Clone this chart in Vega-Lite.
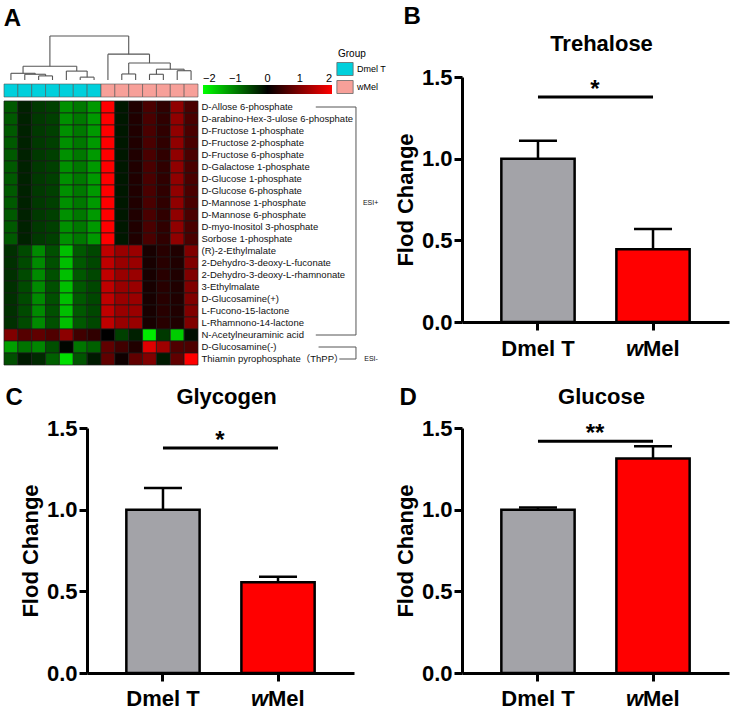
{
"$schema":"https://vega.github.io/schema/vega-lite/v6.json",
"padding":{"left":3,"top":5,"right":2,"bottom":2},
"config":{"view":{"stroke":null},"font":"Liberation Sans","axis":{"labelFont":"Liberation Sans","titleFont":"Liberation Sans"},"legend":{"labelFont":"Liberation Sans","titleFont":"Liberation Sans"},"title":{"font":"Liberation Sans"}},
"datasets":{
"rows":[{"r":1,"name":"D-Allose 6-phosphate"},{"r":2,"name":"D-arabino-Hex-3-ulose 6-phosphate"},{"r":3,"name":"D-Fructose 1-phosphate"},{"r":4,"name":"D-Fructose 2-phosphate"},{"r":5,"name":"D-Fructose 6-phosphate"},{"r":6,"name":"D-Galactose 1-phosphate"},{"r":7,"name":"D-Glucose 1-phosphate"},{"r":8,"name":"D-Glucose 6-phosphate"},{"r":9,"name":"D-Mannose 1-phosphate"},{"r":10,"name":"D-Mannose 6-phosphate"},{"r":11,"name":"D-myo-Inositol 3-phosphate"},{"r":12,"name":"Sorbose 1-phosphate"},{"r":13,"name":"(R)-2-Ethylmalate"},{"r":14,"name":"2-Dehydro-3-deoxy-L-fuconate"},{"r":15,"name":"2-Dehydro-3-deoxy-L-rhamnonate"},{"r":16,"name":"3-Ethylmalate"},{"r":17,"name":"D-Glucosamine(+)"},{"r":18,"name":"L-Fucono-15-lactone"},{"r":19,"name":"L-Rhamnono-14-lactone"},{"r":20,"name":"N-Acetylneuraminic acid"},{"r":21,"name":"D-Glucosamine(-)"},{"r":22,"name":"Thiamin pyrophosphate（ThPP）"}],
"cells":[
{"r":1,"c":1,"v":-0.7},{"r":1,"c":2,"v":-0.27},{"r":1,"c":3,"v":-0.45},{"r":1,"c":4,"v":-0.5},{"r":1,"c":5,"v":-1.13},{"r":1,"c":6,"v":-0.94},{"r":1,"c":7,"v":-1.2},{"r":1,"c":8,"v":2},{"r":1,"c":9,"v":-0.19},{"r":1,"c":10,"v":0.25},{"r":1,"c":11,"v":0.58},{"r":1,"c":12,"v":0.38},{"r":1,"c":13,"v":1.13},{"r":1,"c":14,"v":0.58},
{"r":2,"c":1,"v":-0.7},{"r":2,"c":2,"v":-0.27},{"r":2,"c":3,"v":-0.45},{"r":2,"c":4,"v":-0.5},{"r":2,"c":5,"v":-1.13},{"r":2,"c":6,"v":-0.94},{"r":2,"c":7,"v":-1.2},{"r":2,"c":8,"v":2},{"r":2,"c":9,"v":-0.19},{"r":2,"c":10,"v":0.25},{"r":2,"c":11,"v":0.58},{"r":2,"c":12,"v":0.38},{"r":2,"c":13,"v":1.13},{"r":2,"c":14,"v":0.58},
{"r":3,"c":1,"v":-0.7},{"r":3,"c":2,"v":-0.27},{"r":3,"c":3,"v":-0.45},{"r":3,"c":4,"v":-0.5},{"r":3,"c":5,"v":-1.13},{"r":3,"c":6,"v":-0.94},{"r":3,"c":7,"v":-1.2},{"r":3,"c":8,"v":2},{"r":3,"c":9,"v":-0.19},{"r":3,"c":10,"v":0.25},{"r":3,"c":11,"v":0.58},{"r":3,"c":12,"v":0.38},{"r":3,"c":13,"v":1.13},{"r":3,"c":14,"v":0.58},
{"r":4,"c":1,"v":-0.7},{"r":4,"c":2,"v":-0.27},{"r":4,"c":3,"v":-0.45},{"r":4,"c":4,"v":-0.5},{"r":4,"c":5,"v":-1.13},{"r":4,"c":6,"v":-0.94},{"r":4,"c":7,"v":-1.2},{"r":4,"c":8,"v":2},{"r":4,"c":9,"v":-0.19},{"r":4,"c":10,"v":0.25},{"r":4,"c":11,"v":0.58},{"r":4,"c":12,"v":0.38},{"r":4,"c":13,"v":1.13},{"r":4,"c":14,"v":0.58},
{"r":5,"c":1,"v":-0.7},{"r":5,"c":2,"v":-0.27},{"r":5,"c":3,"v":-0.45},{"r":5,"c":4,"v":-0.5},{"r":5,"c":5,"v":-1.13},{"r":5,"c":6,"v":-0.94},{"r":5,"c":7,"v":-1.2},{"r":5,"c":8,"v":2},{"r":5,"c":9,"v":-0.19},{"r":5,"c":10,"v":0.25},{"r":5,"c":11,"v":0.58},{"r":5,"c":12,"v":0.38},{"r":5,"c":13,"v":1.13},{"r":5,"c":14,"v":0.58},
{"r":6,"c":1,"v":-0.7},{"r":6,"c":2,"v":-0.27},{"r":6,"c":3,"v":-0.45},{"r":6,"c":4,"v":-0.5},{"r":6,"c":5,"v":-1.13},{"r":6,"c":6,"v":-0.94},{"r":6,"c":7,"v":-1.2},{"r":6,"c":8,"v":2},{"r":6,"c":9,"v":-0.19},{"r":6,"c":10,"v":0.25},{"r":6,"c":11,"v":0.58},{"r":6,"c":12,"v":0.38},{"r":6,"c":13,"v":1.13},{"r":6,"c":14,"v":0.58},
{"r":7,"c":1,"v":-0.7},{"r":7,"c":2,"v":-0.27},{"r":7,"c":3,"v":-0.45},{"r":7,"c":4,"v":-0.5},{"r":7,"c":5,"v":-1.13},{"r":7,"c":6,"v":-0.94},{"r":7,"c":7,"v":-1.2},{"r":7,"c":8,"v":2},{"r":7,"c":9,"v":-0.19},{"r":7,"c":10,"v":0.25},{"r":7,"c":11,"v":0.58},{"r":7,"c":12,"v":0.38},{"r":7,"c":13,"v":1.13},{"r":7,"c":14,"v":0.58},
{"r":8,"c":1,"v":-0.7},{"r":8,"c":2,"v":-0.27},{"r":8,"c":3,"v":-0.45},{"r":8,"c":4,"v":-0.5},{"r":8,"c":5,"v":-1.13},{"r":8,"c":6,"v":-0.94},{"r":8,"c":7,"v":-1.2},{"r":8,"c":8,"v":2},{"r":8,"c":9,"v":-0.19},{"r":8,"c":10,"v":0.25},{"r":8,"c":11,"v":0.58},{"r":8,"c":12,"v":0.38},{"r":8,"c":13,"v":1.13},{"r":8,"c":14,"v":0.58},
{"r":9,"c":1,"v":-0.7},{"r":9,"c":2,"v":-0.27},{"r":9,"c":3,"v":-0.45},{"r":9,"c":4,"v":-0.5},{"r":9,"c":5,"v":-1.13},{"r":9,"c":6,"v":-0.94},{"r":9,"c":7,"v":-1.2},{"r":9,"c":8,"v":2},{"r":9,"c":9,"v":-0.19},{"r":9,"c":10,"v":0.25},{"r":9,"c":11,"v":0.58},{"r":9,"c":12,"v":0.38},{"r":9,"c":13,"v":1.13},{"r":9,"c":14,"v":0.58},
{"r":10,"c":1,"v":-0.7},{"r":10,"c":2,"v":-0.27},{"r":10,"c":3,"v":-0.45},{"r":10,"c":4,"v":-0.5},{"r":10,"c":5,"v":-1.13},{"r":10,"c":6,"v":-0.94},{"r":10,"c":7,"v":-1.2},{"r":10,"c":8,"v":2},{"r":10,"c":9,"v":-0.19},{"r":10,"c":10,"v":0.25},{"r":10,"c":11,"v":0.58},{"r":10,"c":12,"v":0.38},{"r":10,"c":13,"v":1.13},{"r":10,"c":14,"v":0.58},
{"r":11,"c":1,"v":-0.7},{"r":11,"c":2,"v":-0.27},{"r":11,"c":3,"v":-0.45},{"r":11,"c":4,"v":-0.5},{"r":11,"c":5,"v":-1.13},{"r":11,"c":6,"v":-0.94},{"r":11,"c":7,"v":-1.2},{"r":11,"c":8,"v":2},{"r":11,"c":9,"v":-0.19},{"r":11,"c":10,"v":0.25},{"r":11,"c":11,"v":0.58},{"r":11,"c":12,"v":0.38},{"r":11,"c":13,"v":1.13},{"r":11,"c":14,"v":0.58},
{"r":12,"c":1,"v":-0.7},{"r":12,"c":2,"v":-0.27},{"r":12,"c":3,"v":-0.45},{"r":12,"c":4,"v":-0.5},{"r":12,"c":5,"v":-1.13},{"r":12,"c":6,"v":-0.94},{"r":12,"c":7,"v":-1.2},{"r":12,"c":8,"v":2},{"r":12,"c":9,"v":-0.19},{"r":12,"c":10,"v":0.25},{"r":12,"c":11,"v":0.58},{"r":12,"c":12,"v":0.38},{"r":12,"c":13,"v":1.13},{"r":12,"c":14,"v":0.58},
{"r":13,"c":1,"v":-0.38},{"r":13,"c":2,"v":-0.58},{"r":13,"c":3,"v":-1.08},{"r":13,"c":4,"v":-0.63},{"r":13,"c":5,"v":-1.5},{"r":13,"c":6,"v":-0.69},{"r":13,"c":7,"v":-0.56},{"r":13,"c":8,"v":1.5},{"r":13,"c":9,"v":1.19},{"r":13,"c":10,"v":1.2},{"r":13,"c":11,"v":0.19},{"r":13,"c":12,"v":0.31},{"r":13,"c":13,"v":0.25},{"r":13,"c":14,"v":1.0},
{"r":14,"c":1,"v":-0.38},{"r":14,"c":2,"v":-0.58},{"r":14,"c":3,"v":-1.08},{"r":14,"c":4,"v":-0.63},{"r":14,"c":5,"v":-1.5},{"r":14,"c":6,"v":-0.69},{"r":14,"c":7,"v":-0.56},{"r":14,"c":8,"v":1.5},{"r":14,"c":9,"v":1.19},{"r":14,"c":10,"v":1.2},{"r":14,"c":11,"v":0.19},{"r":14,"c":12,"v":0.31},{"r":14,"c":13,"v":0.25},{"r":14,"c":14,"v":1.0},
{"r":15,"c":1,"v":-0.38},{"r":15,"c":2,"v":-0.58},{"r":15,"c":3,"v":-1.08},{"r":15,"c":4,"v":-0.63},{"r":15,"c":5,"v":-1.5},{"r":15,"c":6,"v":-0.69},{"r":15,"c":7,"v":-0.56},{"r":15,"c":8,"v":1.5},{"r":15,"c":9,"v":1.19},{"r":15,"c":10,"v":1.2},{"r":15,"c":11,"v":0.19},{"r":15,"c":12,"v":0.31},{"r":15,"c":13,"v":0.25},{"r":15,"c":14,"v":1.0},
{"r":16,"c":1,"v":-0.38},{"r":16,"c":2,"v":-0.58},{"r":16,"c":3,"v":-1.08},{"r":16,"c":4,"v":-0.63},{"r":16,"c":5,"v":-1.5},{"r":16,"c":6,"v":-0.69},{"r":16,"c":7,"v":-0.56},{"r":16,"c":8,"v":1.5},{"r":16,"c":9,"v":1.19},{"r":16,"c":10,"v":1.2},{"r":16,"c":11,"v":0.19},{"r":16,"c":12,"v":0.31},{"r":16,"c":13,"v":0.25},{"r":16,"c":14,"v":1.0},
{"r":17,"c":1,"v":-0.38},{"r":17,"c":2,"v":-0.58},{"r":17,"c":3,"v":-1.08},{"r":17,"c":4,"v":-0.63},{"r":17,"c":5,"v":-1.5},{"r":17,"c":6,"v":-0.69},{"r":17,"c":7,"v":-0.56},{"r":17,"c":8,"v":1.5},{"r":17,"c":9,"v":1.19},{"r":17,"c":10,"v":1.2},{"r":17,"c":11,"v":0.19},{"r":17,"c":12,"v":0.31},{"r":17,"c":13,"v":0.25},{"r":17,"c":14,"v":1.0},
{"r":18,"c":1,"v":-0.38},{"r":18,"c":2,"v":-0.58},{"r":18,"c":3,"v":-1.08},{"r":18,"c":4,"v":-0.63},{"r":18,"c":5,"v":-1.5},{"r":18,"c":6,"v":-0.69},{"r":18,"c":7,"v":-0.56},{"r":18,"c":8,"v":1.5},{"r":18,"c":9,"v":1.19},{"r":18,"c":10,"v":1.2},{"r":18,"c":11,"v":0.19},{"r":18,"c":12,"v":0.31},{"r":18,"c":13,"v":0.25},{"r":18,"c":14,"v":1.0},
{"r":19,"c":1,"v":-0.38},{"r":19,"c":2,"v":-0.58},{"r":19,"c":3,"v":-1.08},{"r":19,"c":4,"v":-0.63},{"r":19,"c":5,"v":-1.5},{"r":19,"c":6,"v":-0.69},{"r":19,"c":7,"v":-0.56},{"r":19,"c":8,"v":1.5},{"r":19,"c":9,"v":1.19},{"r":19,"c":10,"v":1.2},{"r":19,"c":11,"v":0.19},{"r":19,"c":12,"v":0.31},{"r":19,"c":13,"v":0.25},{"r":19,"c":14,"v":1.0},
{"r":20,"c":1,"v":1.0},{"r":20,"c":2,"v":0.67},{"r":20,"c":3,"v":0.75},{"r":20,"c":4,"v":0.63},{"r":20,"c":5,"v":1.1},{"r":20,"c":6,"v":0.5},{"r":20,"c":7,"v":0.38},{"r":20,"c":8,"v":0},{"r":20,"c":9,"v":-0.5},{"r":20,"c":10,"v":-0.25},{"r":20,"c":11,"v":-1.85},{"r":20,"c":12,"v":-0.45},{"r":20,"c":13,"v":-1.6},{"r":20,"c":14,"v":-0.12},
{"r":21,"c":1,"v":-1.25},{"r":21,"c":2,"v":-0.9},{"r":21,"c":3,"v":-1.05},{"r":21,"c":4,"v":-0.62},{"r":21,"c":5,"v":-0.05},{"r":21,"c":6,"v":-0.92},{"r":21,"c":7,"v":-0.75},{"r":21,"c":8,"v":0.75},{"r":21,"c":9,"v":0.5},{"r":21,"c":10,"v":0.25},{"r":21,"c":11,"v":1.75},{"r":21,"c":12,"v":1.25},{"r":21,"c":13,"v":0.62},{"r":21,"c":14,"v":0.6},
{"r":22,"c":1,"v":-0.62},{"r":22,"c":2,"v":-0.2},{"r":22,"c":3,"v":-0.33},{"r":22,"c":4,"v":-0.75},{"r":22,"c":5,"v":-1.75},{"r":22,"c":6,"v":-0.67},{"r":22,"c":7,"v":-0.2},{"r":22,"c":8,"v":0.75},{"r":22,"c":9,"v":0.12},{"r":22,"c":10,"v":0.75},{"r":22,"c":11,"v":1.0},{"r":22,"c":12,"v":-0.2},{"r":22,"c":13,"v":0.75},{"r":22,"c":14,"v":2.0}
],
"groups":[{"c":1,"group":"Dmel T"},{"c":2,"group":"Dmel T"},{"c":3,"group":"Dmel T"},{"c":4,"group":"Dmel T"},{"c":5,"group":"Dmel T"},{"c":6,"group":"Dmel T"},{"c":7,"group":"Dmel T"},{"c":8,"group":"wMel"},{"c":9,"group":"wMel"},{"c":10,"group":"wMel"},{"c":11,"group":"wMel"},{"c":12,"group":"wMel"},{"c":13,"group":"wMel"},{"c":14,"group":"wMel"}],
"dendro":[
{"x":2.5,"x2":2.5,"y":0,"y2":4.3},{"x":3.5,"x2":3.5,"y":0,"y2":4.3},{"x":2.5,"x2":3.5,"y":4.3,"y2":4.3},
{"x":1.5,"x2":1.5,"y":0,"y2":6},{"x":3,"x2":3,"y":4.3,"y2":6},{"x":1.5,"x2":3,"y":6,"y2":6},
{"x":0.5,"x2":0.5,"y":0,"y2":7},{"x":2.25,"x2":2.25,"y":6,"y2":7},{"x":0.5,"x2":2.25,"y":7,"y2":7},
{"x":5.5,"x2":5.5,"y":0,"y2":3},{"x":6.5,"x2":6.5,"y":0,"y2":3},{"x":5.5,"x2":6.5,"y":3,"y2":3},
{"x":4.5,"x2":4.5,"y":0,"y2":9.3},{"x":6,"x2":6,"y":3,"y2":9.3},{"x":4.5,"x2":6,"y":9.3,"y2":9.3},
{"x":1.375,"x2":1.375,"y":7,"y2":14.3},{"x":5.25,"x2":5.25,"y":9.3,"y2":14.3},{"x":1.375,"x2":5.25,"y":14.3,"y2":14.3},
{"x":8.5,"x2":8.5,"y":0,"y2":6.3},{"x":9.5,"x2":9.5,"y":0,"y2":6.3},{"x":8.5,"x2":9.5,"y":6.3,"y2":6.3},
{"x":10.5,"x2":10.5,"y":0,"y2":6},{"x":11.5,"x2":11.5,"y":0,"y2":6},{"x":10.5,"x2":11.5,"y":6,"y2":6},
{"x":12.5,"x2":12.5,"y":0,"y2":9.7},{"x":13.5,"x2":13.5,"y":0,"y2":9.7},{"x":12.5,"x2":13.5,"y":9.7,"y2":9.7},
{"x":11,"x2":11,"y":6,"y2":11.3},{"x":13,"x2":13,"y":9.7,"y2":11.3},{"x":11,"x2":13,"y":11.3,"y2":11.3},
{"x":9,"x2":9,"y":6.3,"y2":17.7},{"x":12,"x2":12,"y":11.3,"y2":17.7},{"x":9,"x2":12,"y":17.7,"y2":17.7},
{"x":7.5,"x2":7.5,"y":0,"y2":27},{"x":10.5,"x2":10.5,"y":17.7,"y2":27},{"x":7.5,"x2":10.5,"y":27,"y2":27},
{"x":3.3125,"x2":3.3125,"y":14.3,"y2":46},{"x":9,"x2":9,"y":27,"y2":46},{"x":3.3125,"x2":9,"y":46,"y2":46}
],
"brackets":[
{"x":22.5,"x2":25.4,"ya":"D-Allose 6-phosphate","yb":"D-Allose 6-phosphate"},
{"x":25.4,"x2":25.4,"ya":"D-Allose 6-phosphate","yb":"N-Acetylneuraminic acid"},
{"x":22.5,"x2":25.4,"ya":"N-Acetylneuraminic acid","yb":"N-Acetylneuraminic acid"},
{"x":22.7,"x2":25.4,"ya":"D-Glucosamine(-)","yb":"D-Glucosamine(-)"},
{"x":25.4,"x2":25.4,"ya":"D-Glucosamine(-)","yb":"Thiamin pyrophosphate（ThPP）"},
{"x":24.2,"x2":25.4,"ya":"Thiamin pyrophosphate（ThPP）","yb":"Thiamin pyrophosphate（ThPP）"}
],
"esi":[{"x":25.9,"ya":"D-Mannose 1-phosphate","t":"ESI+"},{"x":26.0,"ya":"Thiamin pyrophosphate（ThPP）","t":"ESI-"}],
"bars":[
{"metabolite":"Trehalose","group":"Dmel T","mean":1.0,"upper":1.11},
{"metabolite":"Trehalose","group":"wMel","mean":0.445,"upper":0.57},
{"metabolite":"Glycogen","group":"Dmel T","mean":1.0,"upper":1.133},
{"metabolite":"Glycogen","group":"wMel","mean":0.555,"upper":0.59},
{"metabolite":"Glucose","group":"Dmel T","mean":1.0,"upper":1.013},
{"metabolite":"Glucose","group":"wMel","mean":1.313,"upper":1.388}
],
"sig":[
{"metabolite":"Trehalose","y":1.377,"label":"*"},
{"metabolite":"Glycogen","y":1.378,"label":"*"},
{"metabolite":"Glucose","y":1.419,"label":"**"}
]
},
"spacing":20,
"vconcat":[
{"spacing":15,"hconcat":[
 {"title":{"text":"A","anchor":"start","frame":"bounds","fontSize":24,"fontWeight":"bold","color":"black","offset":4},
  "spacing":2,
  "vconcat":[
   {"width":194,"height":44,"data":{"name":"dendro"},
    "mark":{"type":"rule","color":"#555555","strokeWidth":1.1},
    "encoding":{
     "x":{"field":"x","type":"quantitative","scale":{"domain":[0,14],"nice":false,"zero":false},"axis":null},
     "x2":{"field":"x2"},
     "y":{"field":"y","type":"quantitative","scale":{"domain":[0,46],"nice":false},"axis":null},
     "y2":{"field":"y2"}}},
   {"width":194,"height":13,"data":{"name":"groups"},
    "mark":{"type":"rect","stroke":"#555555","strokeWidth":0.6},
    "encoding":{
     "x":{"field":"c","type":"ordinal","axis":null},
     "fill":{"field":"group","type":"nominal","scale":{"domain":["Dmel T","wMel"],"range":["#00d0dc","#f7a099"]},
      "legend":{"orient":"none","legendX":334,"legendY":13,"title":"Group","titleFontSize":10,"titleFontWeight":"normal","titleColor":"black","titlePadding":3,"labelFontSize":9,"labelColor":"black","symbolType":"M-1.25,-1H1.25V1H-1.25Z","symbolSize":169,"symbolStrokeColor":"#666666","symbolStrokeWidth":0.8,"symbolOpacity":1,"rowPadding":0,"padding":0,"labelOffset":5}}}},
   {"width":194,"height":264,
    "resolve":{"scale":{"x":"independent"},"axis":{"x":"independent"}},
    "layer":[
     {"data":{"name":"cells"},
      "transform":[{"lookup":"r","from":{"data":{"name":"rows"},"key":"r","fields":["name"]}}],
      "mark":{"type":"rect","stroke":"#1a1a1a","strokeWidth":0.7},
      "encoding":{
       "x":{"field":"c","type":"ordinal","axis":null},
       "y":{"field":"name","type":"nominal","scale":{"domain":["D-Allose 6-phosphate","D-arabino-Hex-3-ulose 6-phosphate","D-Fructose 1-phosphate","D-Fructose 2-phosphate","D-Fructose 6-phosphate","D-Galactose 1-phosphate","D-Glucose 1-phosphate","D-Glucose 6-phosphate","D-Mannose 1-phosphate","D-Mannose 6-phosphate","D-myo-Inositol 3-phosphate","Sorbose 1-phosphate","(R)-2-Ethylmalate","2-Dehydro-3-deoxy-L-fuconate","2-Dehydro-3-deoxy-L-rhamnonate","3-Ethylmalate","D-Glucosamine(+)","L-Fucono-15-lactone","L-Rhamnono-14-lactone","N-Acetylneuraminic acid","D-Glucosamine(-)","Thiamin pyrophosphate（ThPP）"]},
        "axis":{"orient":"right","title":null,"ticks":false,"domain":false,"labelPadding":3,"labelFontSize":9.5,"labelColor":"#111111","labelLimit":300,"labelFont":"Liberation Sans, Noto Sans CJK SC, sans-serif"}},
       "color":{"field":"v","type":"quantitative","scale":{"domain":[-2,0,2],"range":["#00ff00","#000000","#ff0000"],"interpolate":"rgb","clamp":true},
        "legend":{"orient":"none","legendX":199,"legendY":49,"direction":"horizontal","gradientLength":129,"gradientThickness":9,"title":null,"values":[-2,-1,0,1,2],"format":"d","labelOffset":-21,"labelFontSize":11,"labelColor":"black","padding":0,"gradientStrokeWidth":0}}}},
     {"data":{"name":"brackets"},
      "mark":{"type":"rule","color":"#555555","strokeWidth":1},
      "encoding":{
       "x":{"field":"x","type":"quantitative","scale":{"domain":[0,14],"nice":false,"zero":false},"axis":null},
       "x2":{"field":"x2"},
       "y":{"field":"ya","type":"nominal"},
       "y2":{"field":"yb"}}},
     {"data":{"name":"esi"},
      "mark":{"type":"text","fontSize":7,"align":"left","baseline":"middle","color":"#111111"},
      "encoding":{
       "x":{"field":"x","type":"quantitative","scale":{"domain":[0,14],"nice":false,"zero":false},"axis":null},
       "y":{"field":"ya","type":"nominal"},
       "text":{"field":"t"}}}
    ]}
  ]},
 {"title":{"text":"B","anchor":"start","frame":"bounds","fontSize":24,"fontWeight":"bold","color":"black","offset":4,"dx":9},
  "spacing":-4,
  "vconcat":[
   {"width":1,"height":1,"data":{"values":[]},"mark":"point","encoding":{}},
   {"width":267,"height":245,
    "title":{"text":"Trehalose","fontSize":22,"fontWeight":"bold","color":"black","offset":10,"dx":6},
    "data":{"name":"bars"},
    "transform":[{"filter":"datum.metabolite === 'Trehalose'"}],
    "layer":[
     {"mark":{"type":"rule","strokeWidth":2.5,"color":"black"},
      "encoding":{"x":{"field":"group","type":"nominal","scale":{"domain":["Dmel T","wMel"],"paddingInner":0.363,"paddingOuter":0.342}},"y":{"field":"mean","type":"quantitative","scale":{"domain":[0,1.5],"nice":false}},"y2":{"field":"upper"}}},
     {"mark":{"type":"tick","orient":"horizontal","size":38,"thickness":2.5,"color":"black","opacity":1},
      "encoding":{"x":{"field":"group","type":"nominal"},"y":{"field":"upper","type":"quantitative"}}},
     {"mark":{"type":"bar","stroke":"black","strokeWidth":2.5},
      "encoding":{
       "x":{"field":"group","type":"nominal","axis":{"title":null,"labels":false,"tickSize":8,"tickWidth":3,"tickColor":"black","domainWidth":3,"domainColor":"black"}},
       "y":{"field":"mean","type":"quantitative","axis":{"title":"Flod Change","titleFontSize":22,"titleFontWeight":"bold","titleColor":"black","titlePadding":4,"values":[0,0.5,1,1.5],"format":".1f","labelFontSize":22,"labelFontWeight":"bold","labelColor":"black","labelPadding":2,"tickSize":8,"tickWidth":3,"tickColor":"black","domainWidth":3,"domainColor":"black","grid":false}},
       "fill":{"condition":{"test":"datum.group === 'wMel'","value":"#ff0000"},"value":"#a3a3a8"}}},
     {"transform":[{"filter":"datum.group === 'Dmel T'"}],
      "mark":{"type":"text","fontSize":22,"fontWeight":"bold","baseline":"middle","align":"center","dy":27,"color":"black"},
      "encoding":{"x":{"field":"group","type":"nominal"},"y":{"datum":0,"type":"quantitative"},"text":{"field":"group"}}},
     {"transform":[{"filter":"datum.group === 'wMel'"}],
      "mark":{"type":"text","fontSize":22,"fontWeight":"bold","fontStyle":"italic","baseline":"middle","align":"right","dx":-10,"dy":27,"color":"black"},
      "encoding":{"x":{"field":"group","type":"nominal"},"y":{"datum":0,"type":"quantitative"},"text":{"value":"w"}}},
     {"transform":[{"filter":"datum.group === 'wMel'"}],
      "mark":{"type":"text","fontSize":22,"fontWeight":"bold","baseline":"middle","align":"left","dx":-10,"dy":27,"color":"black"},
      "encoding":{"x":{"field":"group","type":"nominal"},"y":{"datum":0,"type":"quantitative"},"text":{"value":"Mel"}}},
     {"data":{"name":"sig"},"transform":[{"filter":"datum.metabolite === 'Trehalose'"}],
      "mark":{"type":"rule","strokeWidth":3,"color":"black"},
      "encoding":{"x":{"datum":"Dmel T","type":"nominal"},"x2":{"datum":"wMel"},"y":{"field":"y","type":"quantitative"}}},
     {"data":{"name":"sig"},"transform":[{"filter":"datum.metabolite === 'Trehalose'"}],
      "mark":{"type":"text","dx":57,"fontSize":24,"fontWeight":"bold","baseline":"alphabetic","align":"center","color":"black"},
      "encoding":{"x":{"datum":"Dmel T","type":"nominal"},"y":{"field":"y","type":"quantitative"},"text":{"field":"label"}}}
    ]}
  ]}
]},
{"spacing":0,"hconcat":[
 {"width":1,"height":1,"data":{"values":[]},"mark":"point","encoding":{}},
 {"spacing":40,"hconcat":[
 {"title":{"text":"C","anchor":"start","frame":"bounds","fontSize":24,"fontWeight":"bold","color":"black","offset":0,"dy":24,"dx":-14},
  "vconcat":[
   {"width":267,"height":245,
    "title":{"text":"Glycogen","fontSize":22,"fontWeight":"bold","color":"black","offset":8,"dx":6},
    "data":{"name":"bars"},
    "transform":[{"filter":"datum.metabolite === 'Glycogen'"}],
    "layer":[
     {"mark":{"type":"rule","strokeWidth":2.5,"color":"black"},
      "encoding":{"x":{"field":"group","type":"nominal","scale":{"domain":["Dmel T","wMel"],"paddingInner":0.363,"paddingOuter":0.342}},"y":{"field":"mean","type":"quantitative","scale":{"domain":[0,1.5],"nice":false}},"y2":{"field":"upper"}}},
     {"mark":{"type":"tick","orient":"horizontal","size":38,"thickness":2.5,"color":"black","opacity":1},
      "encoding":{"x":{"field":"group","type":"nominal"},"y":{"field":"upper","type":"quantitative"}}},
     {"mark":{"type":"bar","stroke":"black","strokeWidth":2.5},
      "encoding":{
       "x":{"field":"group","type":"nominal","axis":{"title":null,"labels":false,"tickSize":8,"tickWidth":3,"tickColor":"black","domainWidth":3,"domainColor":"black"}},
       "y":{"field":"mean","type":"quantitative","axis":{"title":"Flod Change","titleFontSize":22,"titleFontWeight":"bold","titleColor":"black","titlePadding":4,"values":[0,0.5,1,1.5],"format":".1f","labelFontSize":22,"labelFontWeight":"bold","labelColor":"black","labelPadding":2,"tickSize":8,"tickWidth":3,"tickColor":"black","domainWidth":3,"domainColor":"black","grid":false}},
       "fill":{"condition":{"test":"datum.group === 'wMel'","value":"#ff0000"},"value":"#a3a3a8"}}},
     {"transform":[{"filter":"datum.group === 'Dmel T'"}],
      "mark":{"type":"text","fontSize":22,"fontWeight":"bold","baseline":"middle","align":"center","dy":26,"color":"black"},
      "encoding":{"x":{"field":"group","type":"nominal"},"y":{"datum":0,"type":"quantitative"},"text":{"field":"group"}}},
     {"transform":[{"filter":"datum.group === 'wMel'"}],
      "mark":{"type":"text","fontSize":22,"fontWeight":"bold","fontStyle":"italic","baseline":"middle","align":"right","dx":-10,"dy":26,"color":"black"},
      "encoding":{"x":{"field":"group","type":"nominal"},"y":{"datum":0,"type":"quantitative"},"text":{"value":"w"}}},
     {"transform":[{"filter":"datum.group === 'wMel'"}],
      "mark":{"type":"text","fontSize":22,"fontWeight":"bold","baseline":"middle","align":"left","dx":-10,"dy":26,"color":"black"},
      "encoding":{"x":{"field":"group","type":"nominal"},"y":{"datum":0,"type":"quantitative"},"text":{"value":"Mel"}}},
     {"data":{"name":"sig"},"transform":[{"filter":"datum.metabolite === 'Glycogen'"}],
      "mark":{"type":"rule","strokeWidth":3,"color":"black"},
      "encoding":{"x":{"datum":"Dmel T","type":"nominal"},"x2":{"datum":"wMel"},"y":{"field":"y","type":"quantitative"}}},
     {"data":{"name":"sig"},"transform":[{"filter":"datum.metabolite === 'Glycogen'"}],
      "mark":{"type":"text","dx":57,"fontSize":24,"fontWeight":"bold","baseline":"alphabetic","align":"center","color":"black"},
      "encoding":{"x":{"datum":"Dmel T","type":"nominal"},"y":{"field":"y","type":"quantitative"},"text":{"field":"label"}}}
    ]}
  ]},
 {"title":{"text":"D","anchor":"start","frame":"bounds","fontSize":24,"fontWeight":"bold","color":"black","offset":0,"dy":24,"dx":5},
  "vconcat":[
   {"width":267,"height":245,
    "title":{"text":"Glucose","fontSize":22,"fontWeight":"bold","color":"black","offset":8,"dx":6},
    "data":{"name":"bars"},
    "transform":[{"filter":"datum.metabolite === 'Glucose'"}],
    "layer":[
     {"mark":{"type":"rule","strokeWidth":2.5,"color":"black"},
      "encoding":{"x":{"field":"group","type":"nominal","scale":{"domain":["Dmel T","wMel"],"paddingInner":0.363,"paddingOuter":0.342}},"y":{"field":"mean","type":"quantitative","scale":{"domain":[0,1.5],"nice":false}},"y2":{"field":"upper"}}},
     {"mark":{"type":"tick","orient":"horizontal","size":38,"thickness":2.5,"color":"black","opacity":1},
      "encoding":{"x":{"field":"group","type":"nominal"},"y":{"field":"upper","type":"quantitative"}}},
     {"mark":{"type":"bar","stroke":"black","strokeWidth":2.5},
      "encoding":{
       "x":{"field":"group","type":"nominal","axis":{"title":null,"labels":false,"tickSize":8,"tickWidth":3,"tickColor":"black","domainWidth":3,"domainColor":"black"}},
       "y":{"field":"mean","type":"quantitative","axis":{"title":"Flod Change","titleFontSize":22,"titleFontWeight":"bold","titleColor":"black","titlePadding":4,"values":[0,0.5,1,1.5],"format":".1f","labelFontSize":22,"labelFontWeight":"bold","labelColor":"black","labelPadding":2,"tickSize":8,"tickWidth":3,"tickColor":"black","domainWidth":3,"domainColor":"black","grid":false}},
       "fill":{"condition":{"test":"datum.group === 'wMel'","value":"#ff0000"},"value":"#a3a3a8"}}},
     {"transform":[{"filter":"datum.group === 'Dmel T'"}],
      "mark":{"type":"text","fontSize":22,"fontWeight":"bold","baseline":"middle","align":"center","dy":26,"color":"black"},
      "encoding":{"x":{"field":"group","type":"nominal"},"y":{"datum":0,"type":"quantitative"},"text":{"field":"group"}}},
     {"transform":[{"filter":"datum.group === 'wMel'"}],
      "mark":{"type":"text","fontSize":22,"fontWeight":"bold","fontStyle":"italic","baseline":"middle","align":"right","dx":-10,"dy":26,"color":"black"},
      "encoding":{"x":{"field":"group","type":"nominal"},"y":{"datum":0,"type":"quantitative"},"text":{"value":"w"}}},
     {"transform":[{"filter":"datum.group === 'wMel'"}],
      "mark":{"type":"text","fontSize":22,"fontWeight":"bold","baseline":"middle","align":"left","dx":-10,"dy":26,"color":"black"},
      "encoding":{"x":{"field":"group","type":"nominal"},"y":{"datum":0,"type":"quantitative"},"text":{"value":"Mel"}}},
     {"data":{"name":"sig"},"transform":[{"filter":"datum.metabolite === 'Glucose'"}],
      "mark":{"type":"rule","strokeWidth":3,"color":"black"},
      "encoding":{"x":{"datum":"Dmel T","type":"nominal"},"x2":{"datum":"wMel"},"y":{"field":"y","type":"quantitative"}}},
     {"data":{"name":"sig"},"transform":[{"filter":"datum.metabolite === 'Glucose'"}],
      "mark":{"type":"text","dx":57,"fontSize":24,"fontWeight":"bold","baseline":"alphabetic","align":"center","color":"black"},
      "encoding":{"x":{"datum":"Dmel T","type":"nominal"},"y":{"field":"y","type":"quantitative"},"text":{"field":"label"}}}
    ]}
  ]}
 ]}
]}
]
}
